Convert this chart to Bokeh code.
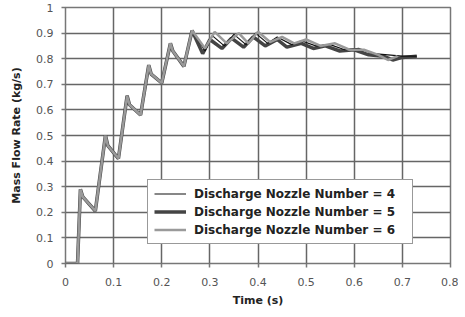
from bokeh.plotting import figure
from bokeh.models import Range1d, Legend, LegendItem, FixedTicker
from bokeh.embed import file_html
from bokeh.resources import INLINE

# Shared start-up transient (all three nozzles coincide here)
t_common = [0.0, 0.025, 0.031, 0.036, 0.062, 0.083, 0.088, 0.110, 0.128, 0.133,
            0.156, 0.173, 0.178, 0.200, 0.218, 0.223, 0.246, 0.263]
m_common = [0.0, 0.0, 0.29, 0.26, 0.205, 0.50, 0.46, 0.41, 0.655, 0.62,
            0.58, 0.775, 0.74, 0.705, 0.86, 0.83, 0.77, 0.91]

t_n4 = [0.290, 0.305, 0.330, 0.350, 0.375, 0.395, 0.420, 0.440, 0.470, 0.490,
        0.520, 0.550, 0.580, 0.610, 0.640, 0.670, 0.700, 0.730]
m_n4 = [0.830, 0.890, 0.850, 0.895, 0.855, 0.900, 0.860, 0.885, 0.855, 0.870,
        0.850, 0.855, 0.835, 0.840, 0.820, 0.815, 0.810, 0.810]

t_n5 = [0.285, 0.300, 0.325, 0.345, 0.370, 0.390, 0.415, 0.440, 0.460, 0.490,
        0.515, 0.540, 0.570, 0.600, 0.630, 0.660, 0.680, 0.700, 0.730]
m_n5 = [0.820, 0.875, 0.840, 0.880, 0.845, 0.885, 0.850, 0.875, 0.845, 0.860,
        0.840, 0.850, 0.830, 0.835, 0.815, 0.810, 0.795, 0.805, 0.810]

t_n6 = [0.290, 0.310, 0.335, 0.360, 0.380, 0.400, 0.425, 0.450, 0.475, 0.500,
        0.530, 0.560, 0.590, 0.620, 0.650, 0.670, 0.690]
m_n6 = [0.840, 0.905, 0.860, 0.900, 0.860, 0.905, 0.865, 0.885, 0.860, 0.875,
        0.850, 0.860, 0.835, 0.835, 0.815, 0.795, 0.810]

labels = ["Discharge Nozzle Number = 4",
          "Discharge Nozzle Number = 5",
          "Discharge Nozzle Number = 6"]
x_ticks = [0, 0.1, 0.2, 0.3, 0.4, 0.5, 0.6, 0.7, 0.8]
x_tick_labels = ["0", "0.1", "0.2", "0.3", "0.4", "0.5", "0.6", "0.7", "0.8"]
y_ticks = [0, 0.1, 0.2, 0.3, 0.4, 0.5, 0.6, 0.7, 0.8, 0.9, 1.0]
y_tick_labels = ["0", "0.1", "0.2", "0.3", "0.4", "0.5", "0.6", "0.7", "0.8", "0.9", "1"]

FONT = "DejaVu Sans"

p = figure(width=458, height=312, output_backend="svg", toolbar_location=None,
           x_range=Range1d(0, 0.8), y_range=Range1d(0, 1))
p.min_border_left = 65
p.min_border_right = 8
p.min_border_top = 7
p.min_border_bottom = 49
p.background_fill_color = "white"
p.border_fill_color = "white"
p.outline_line_color = "#777777"
p.outline_line_width = 1.5

for ax in (p.xaxis[0], p.yaxis[0]):
    ax.axis_line_color = None
    ax.major_tick_line_color = "#777777"
    ax.major_tick_line_width = 1.5
    ax.major_tick_out = 4
    ax.major_tick_in = 0
    ax.minor_tick_line_color = None
    ax.major_label_text_font = FONT
    ax.major_label_text_font_size = "11px"
    ax.major_label_text_color = "#555555"
    ax.axis_label_text_font = FONT
    ax.axis_label_text_font_style = "bold"
    ax.axis_label_text_font_size = "11px"
    ax.axis_label_text_color = "#222222"

p.xaxis.ticker = FixedTicker(ticks=x_ticks)
p.yaxis.ticker = FixedTicker(ticks=y_ticks)
p.xaxis.major_label_overrides = {t: l for t, l in zip(x_ticks, x_tick_labels)}
p.yaxis.major_label_overrides = {t: l for t, l in zip(y_ticks, y_tick_labels)}
p.xaxis.axis_label = "Time (s)"
p.yaxis.axis_label = "Mass Flow Rate (kg/s)"
p.xaxis.major_label_standoff = 10
p.yaxis.major_label_standoff = 8
p.xaxis.axis_label_standoff = 5
p.yaxis.axis_label_standoff = 10

p.xgrid.ticker = FixedTicker(ticks=x_ticks)
p.ygrid.ticker = FixedTicker(ticks=y_ticks)
p.grid.grid_line_color = "#666666"
p.grid.grid_line_width = 1.5

r6 = p.line(t_common + t_n6, m_common + m_n6, line_color="#9a9a9a", line_width=2.5)
r5 = p.line(t_common + t_n5, m_common + m_n5, line_color="#444444", line_width=3.5)
r4 = p.line(t_common + t_n4, m_common + m_n4, line_color="#111111", line_width=1.2)
p.renderers = [r5, r4, r6]

legend = Legend(items=[LegendItem(label=labels[0], renderers=[r4]),
                       LegendItem(label=labels[1], renderers=[r5]),
                       LegendItem(label=labels[2], renderers=[r6])],
                location=(82, 19))
legend.label_text_font = FONT
legend.label_text_font_style = "bold"
legend.label_text_font_size = "12px"
legend.label_text_color = "#222222"
legend.border_line_color = "#333333"
legend.border_line_width = 1
legend.background_fill_color = "white"
legend.background_fill_alpha = 1
legend.glyph_width = 32
legend.glyph_height = 15
legend.label_height = 15
legend.label_width = 212
legend.label_standoff = 8
legend.spacing = 3
legend.padding = 6
legend.margin = 0
p.add_layout(legend)

open("out.html", "w").write(file_html(p, INLINE))
